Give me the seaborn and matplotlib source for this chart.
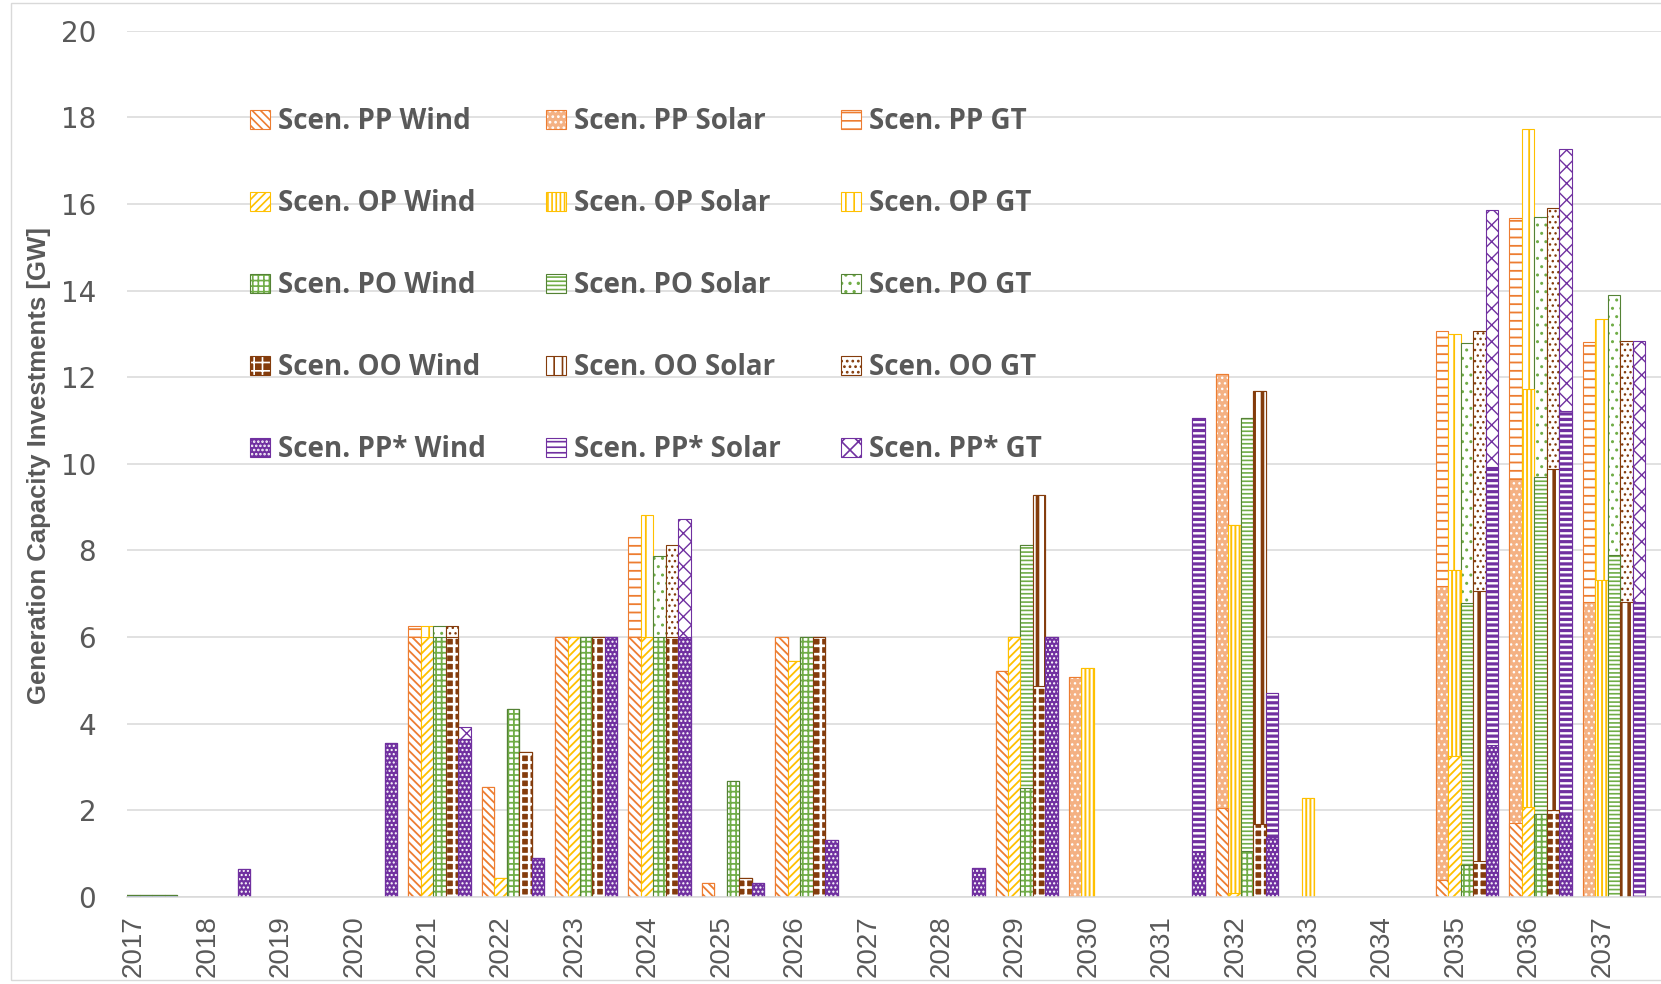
import numpy as np
import pandas as pd
import matplotlib
matplotlib.use("Agg")
import matplotlib.pyplot as plt
import matplotlib.patches as mpatches
from matplotlib.colors import to_rgba
import seaborn as sns

years = [str(y) for y in range(2017, 2038)]
scenarios = ["PP", "OP", "PO", "OO", "PP*"]

#          2017  18    19  20    21    22    23   24   25    26   27  28    29    30    31    32    33    34  35    36    37
pp_wind  = [0.05, 0,    0,  0,    6.0,  2.54, 6.0, 6.0, 0.32, 6.0, 0,  0,    5.22, 0,    0,    2.05, 0,    0,  0.39, 1.71, 0]
pp_solar = [0,    0,    0,  0,    0,    0,    0,   0,   0,    0,   0,  0,    0,    5.08, 0,    10.02, 0,   0,  6.79, 7.94, 6.82]
pp_gt    = [0,    0,    0,  0,    0.25, 0,    0,   2.32, 0,   0,   0,  0,    0,    0,    0,    0,    0,    0,  5.89, 6.02, 6.0]

op_wind  = [0.05, 0,    0,  0,    6.0,  0.45, 6.0, 6.0, 0,    5.45, 0, 0,    6.0,  0,    0,    0.1,  0,    0,  3.25, 2.07, 0]
op_solar = [0,    0,    0,  0,    0,    0,    0,   0,   0,    0,   0,  0,    0,    5.28, 0,    8.48, 2.28, 0,  4.29, 9.65, 7.32]
op_gt    = [0,    0,    0,  0,    0.25, 0,    0,   2.82, 0,   0,   0,  0,    0,    0,    0,    0,    0,    0,  5.46, 6.02, 6.02]

po_wind  = [0.05, 0,    0,  0,    6.0,  4.35, 6.0, 6.0, 2.67, 6.0, 0,  0,    2.51, 0,    0,    1.06, 0,    0,  0.75, 1.91, 0]
po_solar = [0,    0,    0,  0,    0,    0,    0,   0,   0,    0,   0,  0,    5.61, 0,    0,    9.99, 0,    0,  6.03, 7.78, 7.89]
po_gt    = [0,    0,    0,  0,    0.25, 0,    0,   1.88, 0,   0,   0,  0,    0,    0,    0,    0,    0,    0,  6.02, 6.0,  6.01]

oo_wind  = [0.05, 0,    0,  0,    6.0,  3.35, 6.0, 6.0, 0.45, 6.0, 0,  0,    4.88, 0,    0,    1.68, 0,    0,  0.84, 2.0,  0]
oo_solar = [0,    0,    0,  0,    0,    0,    0,   0,   0,    0,   0,  0,    4.4,  0,    0,    10.01, 0,   0,  6.22, 7.89, 6.82]
oo_gt    = [0,    0,    0,  0,    0.25, 0,    0,   2.12, 0,   0,   0,  0,    0,    0,    0,    0,    0,    0,  6.0,  6.02, 6.01]

pps_wind  = [0.05, 0.65, 0, 3.55, 3.65, 0.89, 6.0, 6.0, 0.32, 1.32, 0, 0.68, 6.0,  0,    1.06, 1.39, 0,    0,  3.5,  1.95, 0]
pps_solar = [0,    0,    0, 0,    0,    0,    0,   0,   0,    0,   0,  0,    0,    0,    10.0, 3.31, 0,    0,  6.43, 9.27, 6.82]
pps_gt    = [0,    0,    0, 0,    0.27, 0,    0,   2.72, 0,   0,   0,  0,    0,    0,    0,    0,    0,    0,  5.92, 6.06, 6.01]

wind = [pp_wind, op_wind, po_wind, oo_wind, pps_wind]
solar = [pp_solar, op_solar, po_solar, oo_solar, pps_solar]
gt = [pp_gt, op_gt, po_gt, oo_gt, pps_gt]

rows = []
for s, w_list, s_list, g_list in zip(scenarios, wind, solar, gt):
    for y, a, b, c in zip(years, w_list, s_list, g_list):
        rows.append({"year": y, "scen": s, "wind": a, "solar": b, "gt": c})
df = pd.DataFrame(rows)
df["lvl_wind"] = df["wind"]
df["lvl_solar"] = df["wind"] + df["solar"]
df["lvl_gt"] = df["lvl_solar"] + df["gt"]

edge = {"PP": "#ED7D31", "OP": "#FFC000", "PO": "#548235", "OO": "#843C0C", "PP*": "#7030A0"}
# (face, hatch colour, hatch, hatch lw) for each tech / scenario
styles = {
    ("Wind", "PP"): ("white", "#ED7D31", "\\\\\\\\", 1.3),
    ("Wind", "OP"): ("white", "#FFC000", "////", 1.3),
    ("Wind", "PO"): ("white", "#70AD47", "+++", 1.3),
    ("Wind", "OO"): ("#843C0C", "white", "++", 1.9),
    ("Wind", "PP*"): ("#7030A0", "white", "....", 1.0),
    ("Solar", "PP"): ("#F4B183", "white", "...", 1.0),
    ("Solar", "OP"): ("white", "#FFC000", "||||", 1.4),
    ("Solar", "PO"): ("white", "#70AD47", "----", 1.2),
    ("Solar", "OO"): ("white", "#843C0C", "||", 2.6),
    ("Solar", "PP*"): ("white", "#7030A0", "---", 2.3),
    ("GT", "PP"): ("white", "#ED7D31", "--", 1.3),
    ("GT", "OP"): ("white", "#FFC000", "||", 1.3),
    ("GT", "PO"): ("white", "#70AD47", "..", 1.0),
    ("GT", "OO"): ("white", "#843C0C", "...", 1.0),
    ("GT", "PP*"): ("white", "#7030A0", "xx", 1.0),
}


def style_patch(p, face, ecol, hcol, hatch, hlw):
    p.set_facecolor(face)
    p.set_edgecolor(ecol)
    p.set_linewidth(0.8)
    p.set_hatch(hatch)
    p._hatch_color = to_rgba(hcol)
    if hasattr(p, "set_hatch_linewidth"):
        p.set_hatch_linewidth(hlw)


sns.set_style("white")
plt.rcParams["font.family"] = ["DejaVu Sans"]
plt.rcParams["hatch.linewidth"] = 1.2

fig = plt.figure(figsize=(16.61, 9.84), dpi=100)
ax = fig.add_axes([126.7 / 1661, 1 - 897 / 984, 1 - 126.7 / 1661, (897 - 30.7) / 984])

for tech, col in [("GT", "lvl_gt"), ("Solar", "lvl_solar"), ("Wind", "lvl_wind")]:
    n0 = len(ax.containers)
    sns.barplot(data=df, x="year", y=col, hue="scen", order=years, hue_order=scenarios,
                palette=edge, dodge=True, width=0.85, gap=0, errorbar=None,
                legend=False, ax=ax)
    for cont in ax.containers[n0:]:
        for p in cont.patches:
            bw = p.get_width()
            xc = p.get_x() + bw / 2
            i = int(round(xc))
            j = int(round((xc - i) / bw + 2))
            s = scenarios[j]
            if p.get_height() <= 1e-9:
                p.set_visible(False)
                continue
            if i == 0:
                style_patch(p, "#4472C4", "#548235", "#548235", None, 1.0)
            else:
                face, hcol, hatch, hlw = styles[(tech, s)]
                style_patch(p, face, edge[s], hcol, hatch, hlw)

ax.set_xlim(-0.26, 20.64)
ax.set_ylim(0, 20)
ax.set_yticks(range(0, 21, 2))
ax.set_xticks(np.arange(len(years)) - 0.16)
ax.set_xticklabels(years, rotation=90, fontfamily="Liberation Sans",
                   fontsize=20, color="#595959")
ax.tick_params(axis="x", length=0, pad=13)
ax.tick_params(axis="y", length=0, pad=22, labelsize=20, labelcolor="#595959")
ax.set_xlabel("")
ax.set_ylabel("")
ax.yaxis.grid(True, color="#D9D9D9", lw=1.1)
ax.xaxis.grid(False)
ax.set_axisbelow(True)
for side in ["left", "top", "right"]:
    ax.spines[side].set_visible(False)
ax.spines["bottom"].set_color("#D9D9D9")
ax.spines["bottom"].set_linewidth(1.1)

fig.text(38.6 / 1661, 1 - 466 / 984, "Generation Capacity Investments [GW]",
         rotation=90, ha="center", va="center", fontsize=18.5, fontweight="bold",
         fontfamily="Liberation Sans", color="#595959")

handles, labels = [], []
for tech in ["Wind", "Solar", "GT"]:
    for s in scenarios:
        face, hcol, hatch, hlw = styles[(tech, s)]
        h = mpatches.Patch()
        style_patch(h, face, edge[s], hcol, hatch, hlw)
        handles.append(h)
        labels.append(f"Scen. {s} {tech}")

ax.legend(handles, labels, ncol=3, loc="upper left", frameon=False,
          bbox_to_anchor=(250 / 1661, 1 - 107 / 984), bbox_transform=fig.transFigure,
          borderpad=0, borderaxespad=0, handlelength=0.72, handleheight=0.65,
          handletextpad=0.3, labelspacing=1.91, columnspacing=2.15,
          prop={"family": "Open Sans", "weight": "bold", "size": 20},
          labelcolor="#595959")

fig.patches.append(mpatches.Rectangle((10.6 / 1661, 1 - 980 / 984), 1.2, (980 - 3) / 984,
                                      transform=fig.transFigure, fill=False,
                                      ec="#D9D9D9", lw=1))

fig.savefig("out.png", dpi=100)
